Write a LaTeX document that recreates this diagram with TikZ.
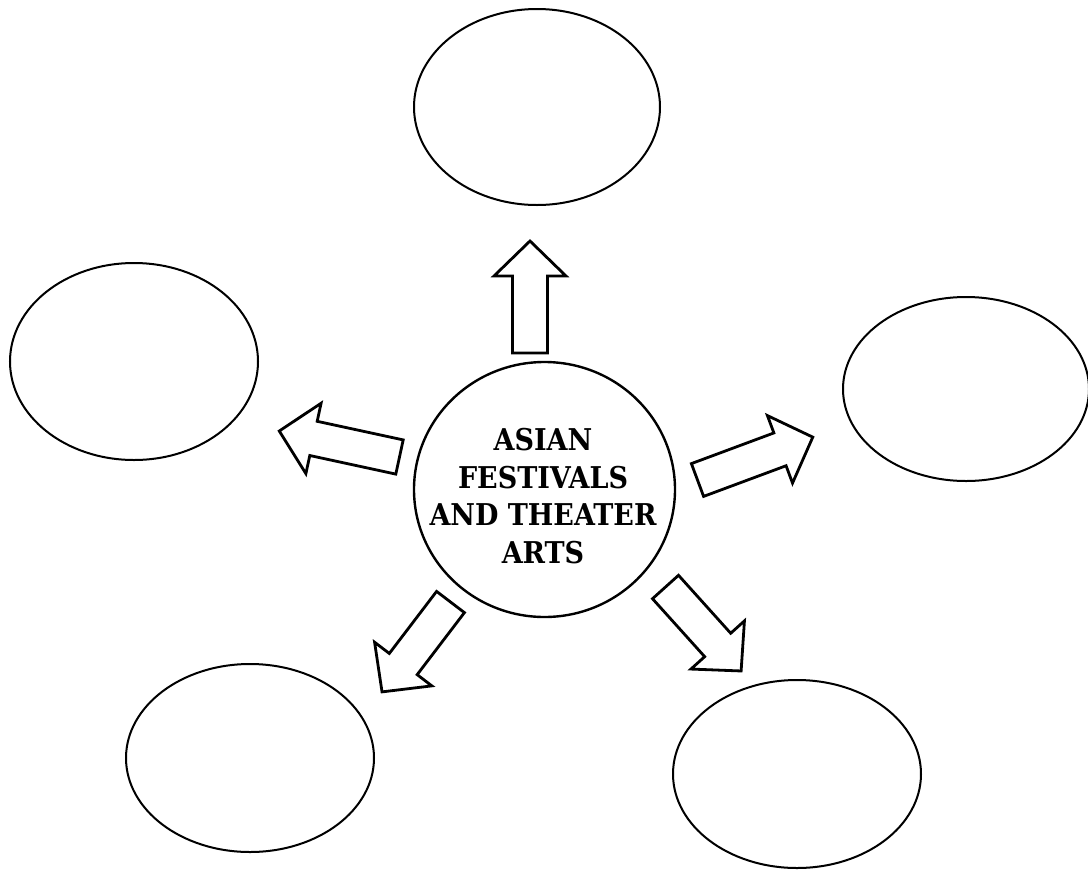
\documentclass[tikz,border=0pt]{standalone}
\usepackage{fontspec}
\setmainfont{DejaVu Serif Condensed}
\usetikzlibrary{shapes.geometric}
\tikzset{
  bubble/.style={draw=black, line width=2pt, ellipse, inner sep=0pt},
  hub/.style={draw=black, line width=2.4pt, ellipse, inner sep=0pt},
  arrowline/.style={draw=black, line width=2.8pt, fill=white},
  pics/blockarrow/.style={code={
    \draw[arrowline] (0,-17.5) -- ({#1-35},-17.5) -- ({#1-35},-36) -- (#1,0)
      -- ({#1-35},36) -- ({#1-35},17.5) -- (0,17.5) -- cycle;}}
}
\begin{document}
\begin{tikzpicture}[x=1pt,y=-1pt]
\useasboundingbox (0,0) rectangle (1088,892);
% outer bubbles
\node[bubble, minimum width=246pt, minimum height=196pt] (top) at (537,107) {};
\node[bubble, minimum width=248pt, minimum height=197pt] (left) at (134,361.5) {};
\node[bubble, minimum width=246pt, minimum height=184pt] (right) at (966,389) {};
\node[bubble, minimum width=248pt, minimum height=188pt] (botleft) at (250,758) {};
\node[bubble, minimum width=248pt, minimum height=188pt] (botright) at (797,774) {};
% hub
\node[hub, minimum width=261pt, minimum height=255pt] (hub) at (544.5,489.5) {};
\node[inner sep=0pt, align=center, font=\fontsize{30}{37.5}\selectfont\bfseries] (title) at (543,496)
  {ASIAN\\FESTIVALS\\AND THEATER\\ARTS};
% block arrows
\pic (aup) [rotate=90] at (530,353) {blockarrow=112};
\pic (aright) [rotate=20.4] at (697.5,480) {blockarrow=123};
\pic (aleft) [rotate=167.8] at (399.5,457) {blockarrow=123};
\pic (abl) [rotate=-127.3] at (450.5,602) {blockarrow=113};
\pic (abr) [rotate=-48] at (665.5,587) {blockarrow=113};
\end{tikzpicture}
\end{document}
